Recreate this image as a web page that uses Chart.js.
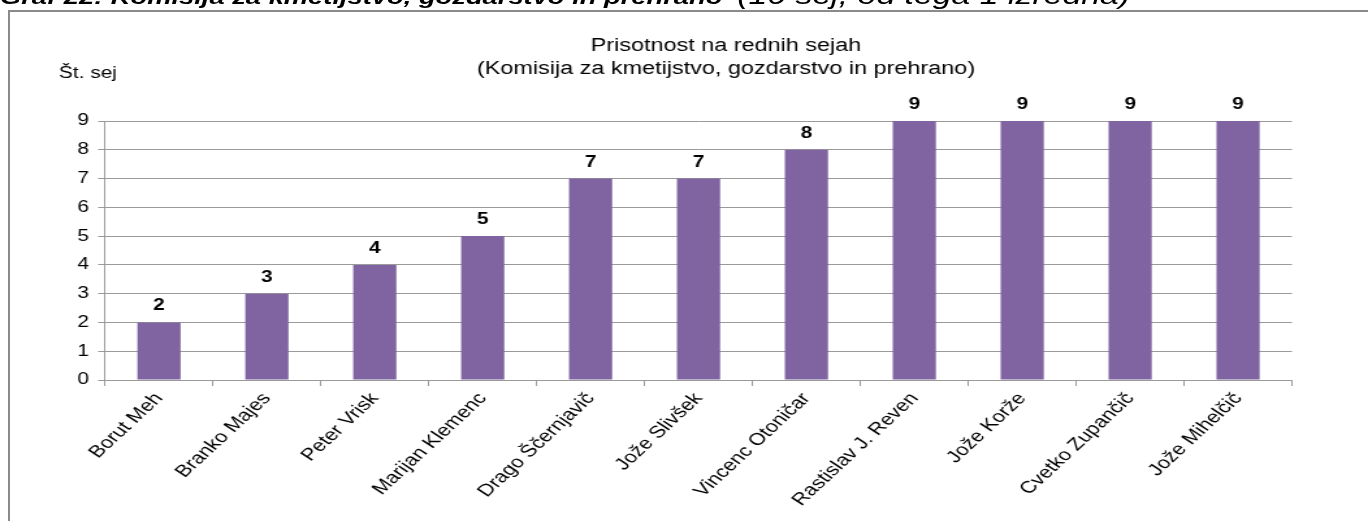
<!DOCTYPE html>
<html><head><meta charset="utf-8">
<script src="https://cdn.jsdelivr.net/npm/chart.js@4.4.0/dist/chart.umd.min.js"></script>
<style>
html,body{margin:0;padding:0;background:#fff;overflow:hidden;width:1368px;height:521px;}
#frame{position:absolute;left:8px;top:10px;width:1500px;height:600px;border:2px solid #8a8a8a;box-sizing:border-box;}
#stage{position:absolute;left:0;top:0;width:1052px;height:521px;transform:scaleX(1.3004);transform-origin:0 0;}
.hd{position:absolute;white-space:nowrap;font-family:"Liberation Sans",Arial,sans-serif;font-style:italic;color:#000;}
#h1{left:0;top:-14px;font-size:21px;line-height:21px;font-weight:bold;}
#h2{left:567px;top:-18px;font-size:26px;line-height:26px;}
canvas{position:absolute;left:0;top:0;}
</style></head>
<body>
<div id="frame"></div>
<div id="stage">
  <div class="hd" id="h1">Graf 22: Komisija za kmetijstvo, gozdarstvo in prehrano</div>
  <div class="hd" id="h2">(10 sej, od tega 1 izredna)</div>
  <canvas id="c" width="1052" height="521"></canvas>
</div>
<script>
const categories = ['Borut Meh','Branko Majes','Peter Vrisk','Marijan Klemenc','Drago Ščernjavič','Jože Slivšek','Vincenc Otoničar','Rastislav J. Reven','Jože Korže','Cvetko Zupančič','Jože Mihelčič'];
const sessions = [2,3,4,5,7,7,8,9,9,9,9];
const titleLines = ['Prisotnost na rednih sejah','(Komisija za kmetijstvo, gozdarstvo in prehrano)'];
const yAxisTitle = 'Št. sej';
const yMin = 0, yMax = 9, yStep = 1;

const S = 1368/1052;
const FONT = '"Liberation Sans", Arial, sans-serif';
Chart.defaults.font.family = FONT;
Chart.defaults.color = '#000';

const extras = {
  id: 'extras',
  afterDatasetsDraw(chart) {
    const ctx = chart.ctx;
    ctx.save();
    ctx.fillStyle = '#000';
    ctx.font = 'bold 16px ' + FONT;
    ctx.textAlign = 'center';
    ctx.textBaseline = 'alphabetic';
    chart.getDatasetMeta(0).data.forEach((bar, i) => {
      ctx.fillText(String(sessions[i]), bar.x, bar.y - 12);
    });
    ctx.font = '18px ' + FONT;
    ctx.fillText(titleLines[0], 726 / S, 51);
    ctx.fillText(titleLines[1], 726 / S, 74);
    ctx.font = '16px ' + FONT;
    ctx.textAlign = 'left';
    ctx.fillText(yAxisTitle, 59 / S, 78);
    ctx.restore();
  }
};

new Chart(document.getElementById('c'), {
  type: 'bar',
  data: {
    labels: categories,
    datasets: [{
      data: sessions,
      backgroundColor: '#8064A2',
      borderWidth: 0,
      categoryPercentage: 0.4,
      barPercentage: 1
    }]
  },
  options: {
    responsive: false,
    animation: false,
    events: [],
    layout: { padding: { top: 121, right: 1052 - 1292 / S, left: 0, bottom: 0 } },
    plugins: { legend: { display: false }, title: { display: false }, tooltip: { enabled: false } },
    scales: {
      x: {
        grid: { display: true, drawOnChartArea: false, drawTicks: true, tickLength: 6, offset: true, color: '#9a9a9a' },
        border: { display: true, color: '#9a9a9a' },
        ticks: { autoSkip: false, minRotation: 50, maxRotation: 50, font: { size: 17 }, color: '#000', padding: 3 },
        afterFit(scale) { scale.height = 521 - 380; }
      },
      y: {
        min: yMin, max: yMax,
        grid: { color: '#9a9a9a', drawTicks: true, tickLength: 5.3 },
        border: { display: true, color: '#9a9a9a' },
        ticks: { stepSize: yStep, font: { size: 16 }, color: '#000', padding: 7 },
        afterFit(scale) { scale.width = 105 / S; }
      }
    }
  },
  plugins: [extras]
});
</script>
</body></html>
